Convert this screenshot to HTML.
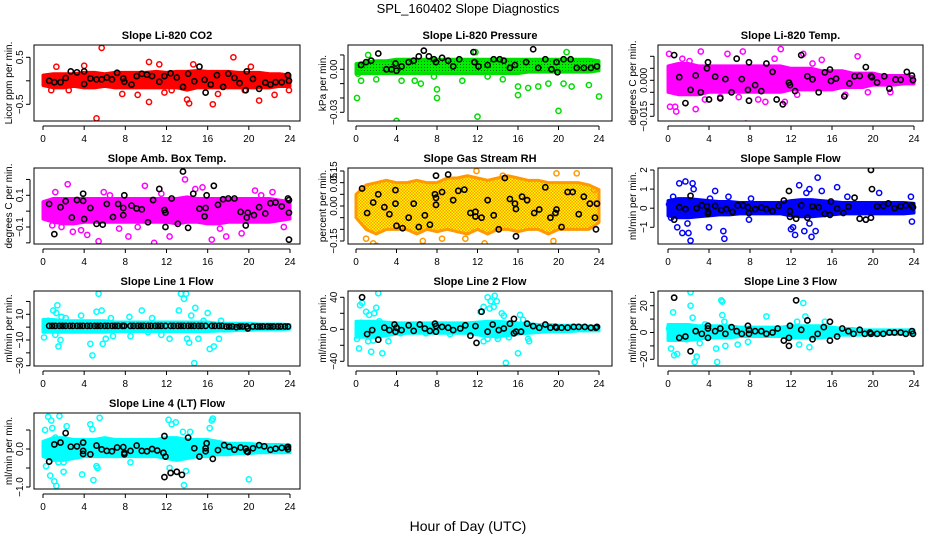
<!DOCTYPE html>
<html><head><meta charset="utf-8"><style>
html,body{margin:0;padding:0;background:#fff;}
svg{display:block;font-family:"Liberation Sans",sans-serif;}
</style></head><body>
<svg id="chart" width="936" height="540" viewBox="0 0 936 540" xmlns="http://www.w3.org/2000/svg">
<defs>
<pattern id="pgreen" width="3" height="3" patternUnits="userSpaceOnUse"><rect width="3" height="3" fill="#00ee00"/><rect x="1" y="1" width="1" height="1" fill="#006600"/></pattern>
<pattern id="porange" width="3" height="3" patternUnits="userSpaceOnUse"><rect width="3" height="3" fill="#ff9900"/><rect x="0" y="0" width="1.5" height="1.5" fill="#ffff00"/><rect x="1.5" y="1.5" width="1.5" height="1.5" fill="#ffff00"/></pattern>
</defs>
<text x="468" y="13" text-anchor="middle" font-size="13">SPL_160402  Slope Diagnostics</text>
<text x="468" y="531" text-anchor="middle" font-size="14">Hour of Day (UTC)</text>
</svg>
<script>
const bandHours=[0,1,2,3,4,5,6,7,8,9,10,11,12,13,14,15,16,17,18,19,20,21,22,23,24];
const xTicks=[0,4,8,12,16,20,24];

// Panel 1 CO2
const p1Hi=[0.12,0.15,0.15,0.15,0.18,0.18,0.15,0.18,0.18,0.18,0.18,0.2,0.18,0.2,0.2,0.22,0.2,0.2,0.2,0.18,0.18,0.18,0.15,0.15,0.12];
const p1Lo=[-0.1,-0.15,-0.15,-0.12,-0.15,-0.15,-0.12,-0.15,-0.15,-0.15,-0.15,-0.15,-0.15,-0.15,-0.2,-0.15,-0.15,-0.15,-0.15,-0.15,-0.15,-0.15,-0.15,-0.12,-0.12];
const p1OutX=[5.7,5.2,1.3,4,10.3,11.3,14.6,18.5,20.2,10.3,14,14.2,16.5,21,22.5,9.2,11.8,0.8,2.5,7.7,17,23.9,19.6,15.3,12.5];
const p1OutY=[0.7,-0.8,0.3,0.32,0.4,0.35,0.35,0.5,0.3,-0.45,-0.4,-0.48,-0.5,-0.42,-0.3,-0.3,-0.25,-0.2,-0.2,-0.28,-0.28,-0.2,-0.2,-0.1,-0.2];
const p1BlkX=[0.6,1.1,1.7,2.2,2.7,3.3,4,4,4.6,5.2,5.7,6.2,6.7,7.2,7.8,7.9,8.6,9.1,9.6,10.1,10.6,11.3,11.8,12.4,13,13.6,14.1,14.7,15.2,15.7,15.8,16.3,16.9,17.5,18,18.6,19.1,19.7,19.8,20.4,21,21.6,22.1,22.6,23.2,23.8,23.9];
const p1BlkY=[0,-0.03,-0.03,0.06,0.2,0.18,0.2,-0.07,0.05,0.03,0.03,0.07,0.03,0.17,0.05,-0.02,-0.08,0.1,0.15,0.13,0.1,-0.02,0.1,0.16,0.07,-0.13,0.15,-0.01,0.3,0.02,-0.25,-0.08,0.12,-0.13,0.15,0.06,-0.05,-0.2,0.2,0.04,-0.17,-0.04,-0.08,-0.03,-0.03,0.12,0];

// Panel 2 Pressure
const p2Hi=[0.004,0.005,0.006,0.006,0.007,0.007,0.007,0.007,0.007,0.007,0.007,0.007,0.007,0.007,0.007,0.007,0.007,0.007,0.007,0.007,0.007,0.007,0.007,0.007,0.006];
const p2Lo=[-0.003,-0.003,-0.003,-0.003,-0.003,-0.003,-0.003,-0.003,-0.003,-0.003,-0.003,-0.003,-0.003,-0.003,-0.003,-0.003,-0.003,-0.002,-0.002,-0.002,-0.002,-0.002,-0.002,-0.002,-0.001];
const p2OutX=[0.1,0.2,0.5,1.2,2,4,4.5,5.8,6.4,7.7,8,8,10.5,12,13,14.5,16,16,17,18,19,20,20.5,21.3,23,24,11.8,20.8];
const p2OutY=[-0.02,-0.003,-0.008,0.01,-0.007,-0.036,-0.008,-0.008,-0.01,-0.005,-0.014,-0.02,-0.008,-0.033,-0.005,-0.007,-0.012,-0.018,-0.013,-0.012,-0.01,-0.029,-0.01,-0.012,-0.011,-0.019,0.012,0.012];
const p2BlkX=[0.5,1,1.5,2.2,3,3.5,3.9,4,4.5,5.2,5.7,6.2,6.7,7.2,7.7,7.9,8.5,9.1,9.6,10.2,11.6,11.7,12.1,13,13.6,14.2,14.6,15.2,15.7,16.8,17.5,18,18.7,19.3,19.8,19.9,20.5,21.2,21.8,22.5,23.2,23.8];
const p2BlkY=[0.003,0.005,0.006,0.011,0,0,0.004,-0.001,0.002,0.005,0.006,0.009,0.013,0.009,0.007,0.005,0.008,0.006,0.002,0.007,0.012,0.005,0.002,0.003,0.007,0.007,0.006,0.001,0.003,0.005,0.014,0.001,0.007,0,0.005,-0.002,0.007,0.007,0.001,0.001,0.001,0.002];

// Panel 3 Li-820 Temp
const p3Hi=[0.006,0.007,0.007,0.006,0.006,0.006,0.006,0.006,0.006,0.006,0.006,0.006,0.005,0.005,0.005,0.004,0.004,0.004,0.003,0.003,0.003,0.002,0.002,0.002,0.0015];
const p3Lo=[-0.005,-0.006,-0.006,-0.006,-0.005,-0.005,-0.005,-0.005,-0.005,-0.005,-0.005,-0.005,-0.004,-0.004,-0.004,-0.004,-0.004,-0.003,-0.003,-0.003,-0.002,-0.002,-0.002,-0.0015,-0.0015];
const p3OutX=[0.1,1.6,4.6,0.2,0.7,0.8,2.7,6.2,7.6,7.3,3.2,11,13.2,18.5,15,9.5,11.4,12.6,17.3,21.7,5.1,3.6,1.4,5.8,2.1,8.8,10.4,6.9,14.1,19.5];
const p3OutY=[0.011,0.017,0.016,-0.011,-0.011,-0.013,-0.012,-0.019,-0.018,0.012,0.012,0.013,0.011,0.01,0.0085,-0.009,-0.009,-0.006,-0.006,-0.005,-0.007,-0.008,0.009,0.011,0.008,-0.008,0.009,-0.007,0.007,-0.005];
const p3BlkX=[0.6,1.1,1.7,2.2,2.7,3.2,3.8,3.9,4,4.6,5.1,5.6,6.2,6.7,7.2,7.8,7.9,7.9,8.5,9.1,9.6,10.2,10.6,11.2,11.8,11.9,12.4,13,13.6,14.1,14.7,15.3,15.8,15.9,16.4,17.2,17.7,18.2,18.7,19.3,19.8,19.9,20.4,21.1,21.6,22.2,22.7,23.3,23.8,23.9];
const p3BlkY=[0.0105,0.0013,-0.0095,-0.004,0.002,-0.005,0.005,0.0075,-0.008,0.0015,-0.0075,0.0005,-0.005,0.009,0.0005,-0.004,0.0075,-0.0085,-0.002,-0.0045,0.007,0.0035,-0.008,-0.01,-0.001,-0.002,-0.0045,0.0105,0.0017,0.0004,-0.005,0.0033,0.0045,-0.0003,0.0007,-0.0067,-0.0013,0.0017,0.0018,0.0055,0.0018,0.0013,-0.0009,0.0017,-0.0035,0.0003,0.0002,0.0035,0.002,0.0001];

// Panel 4 Amb Box Temp
const p4Hi=[0.06,0.08,0.08,0.08,0.08,0.08,0.08,0.08,0.08,0.08,0.08,0.08,0.08,0.08,0.09,0.08,0.08,0.08,0.08,0.08,0.08,0.08,0.08,0.07,0.06];
const p4Lo=[-0.05,-0.07,-0.08,-0.08,-0.07,-0.07,-0.07,-0.07,-0.07,-0.07,-0.07,-0.07,-0.07,-0.08,-0.07,-0.07,-0.08,-0.08,-0.07,-0.07,-0.07,-0.07,-0.07,-0.06,-0.05];
const p4OutX=[2.4,1.2,5.9,13.8,15.5,9.9,14.8,12.3,8.3,10.8,16.4,4.3,3.7,5.4,2.9,0.9,19.3,23.4,17.8,22.3,20.6,6.5,9.2,11.5,17.2,21.2,1.8,7.4];
const p4OutY=[0.17,0.12,0.12,0.2,0.15,0.16,0.14,-0.16,-0.16,-0.2,-0.18,-0.15,-0.12,-0.19,-0.13,-0.09,-0.14,-0.1,-0.16,0.12,0.13,0.1,-0.1,0.11,-0.11,0.1,-0.1,-0.11];
const p4BlkX=[0.6,1.1,1.7,2.2,2.8,3.3,3.9,3.9,4,4.6,5.2,5.8,6.2,6.8,7.3,7.8,7.9,7.8,8.6,9.1,9.6,10.2,10.7,11.3,11.8,11.9,11.9,12.5,13.1,13.6,14.1,14.6,15.2,15.8,15.7,15.9,16.6,17,17.5,18,18.6,19.2,19.7,19.8,19.9,20.5,21,21.6,22.1,22.6,23.2,23.8,23.9,23.9,23.9];
const p4BlkY=[0.045,-0.145,0.025,0.063,-0.04,0.07,0.065,0.11,-0.05,0.02,-0.08,-0.085,0.045,-0.037,0.045,0.02,0.1,-0.025,0.035,0.017,0.011,-0.07,0.07,0.14,0.007,-0.01,-0.1,0.08,-0.08,0.25,-0.105,0.11,0.015,0.02,-0.033,0.1,0.16,0.04,0.075,0.08,0.08,-0.005,-0.09,-0.04,-0.01,-0.025,0.025,-0.015,0.05,0.055,0.03,0.08,0.07,-0.01,-0.18];

// Panel 5 Gas Stream RH
const p5Hi=[0.05,0.09,0.1,0.11,0.1,0.1,0.11,0.1,0.1,0.12,0.12,0.13,0.12,0.11,0.12,0.13,0.12,0.11,0.11,0.1,0.1,0.1,0.1,0.09,0.07];
const p5Lo=[-0.05,-0.1,-0.12,-0.1,-0.1,-0.1,-0.12,-0.1,-0.11,-0.1,-0.11,-0.12,-0.1,-0.12,-0.1,-0.1,-0.11,-0.1,-0.1,-0.12,-0.1,-0.1,-0.1,-0.1,-0.07];
const p5OutX=[2.9,1.7,2,1,15.6,14.5,11.9,19.8,6.6,8.5,19.5,12.7,10.8,23.5,21.8];
const p5OutY=[0.18,-0.16,-0.17,-0.14,0.2,0.13,0.15,0.14,-0.15,-0.14,-0.15,-0.16,-0.14,0.07,0.14];
const p5BlkX=[0.6,1.1,1.7,2.2,2.8,3.3,3.9,3.9,4,4.6,5.2,5.7,6.2,6.8,7.3,7.9,7.8,7.9,7.9,8.5,9.1,9.6,10.1,10.7,11.3,11.8,11.8,12.4,13,13.6,14.1,14.7,15.2,15.7,15.8,15.8,16.4,16.9,17.6,18.1,18.7,19.2,19.7,19.8,19.8,20.3,20.9,21.4,22,22.5,23.1,23.6,23.7,23.8];
const p5BlkY=[0.075,-0.03,0.015,0.05,-0.005,-0.035,0.068,0.01,-0.085,-0.095,-0.05,0.01,-0.09,-0.04,-0.08,0.13,0.05,0.035,0.005,0.06,0.135,0.025,0.065,0.07,-0.03,-0.045,-0.025,-0.05,0.025,-0.04,-0.1,0.12,0.03,0.01,-0.013,-0.13,0.04,0.025,-0.03,-0.015,0.08,-0.05,-0.03,-0.015,-0.19,-0.09,0.06,0.06,-0.035,0.04,0.01,-0.05,-0.1,0.01];

// Panel 6 Sample Flow
const p6Hi=[0.4,0.5,0.5,0.45,0.4,0.35,0.35,0.3,0.3,0.3,0.3,0.3,0.4,0.45,0.45,0.4,0.35,0.3,0.3,0.3,0.3,0.3,0.3,0.3,0.25];
const p6Lo=[-0.4,-0.5,-0.5,-0.45,-0.4,-0.35,-0.35,-0.3,-0.3,-0.3,-0.3,-0.3,-0.4,-0.45,-0.45,-0.4,-0.35,-0.3,-0.3,-0.3,-0.3,-0.3,-0.3,-0.3,-0.25];
const p6OutX=[0.1,0.3,0.5,0.9,1.1,1.4,1.7,1.9,2,2.2,2.4,2.5,2.2,4,4.1,4.6,5.4,5.5,5.9,7.9,8.1,12,12.2,12.4,12.8,13.3,13.5,13.8,13.8,14,14.4,14.6,15,16.5,17.5,20.6,23.7,23.8,19.3];
const p6OutY=[0.2,-0.5,0.6,-1,1.3,-1.3,1.4,-0.8,-1.3,-1.7,1.3,1,0.4,-1,0.5,0.9,-1.2,-1.6,0.6,-0.6,0.5,-1.1,-1,-1.4,1.2,-1.2,0.8,1,-0.8,-1.5,-1.2,1.6,0.9,1.1,0.6,0.8,0.6,-0.7,-0.6];
const p6BlkX=[0.6,1.1,1.7,2.2,2.8,3.3,3.8,3.9,3.9,4.6,5.2,5.7,6.3,6.8,7.3,7.8,7.9,8.5,9.1,9.6,10.2,10.8,11.3,11.8,11.9,11.9,12.5,13,13.6,14.1,14.7,15.3,15.8,15.9,16.5,17.1,17.6,18.2,18.7,19.3,19.8,19.9,19.8,20.4,21,21.5,22.1,22.7,23.2,23.8,23.9];
const p6BlkY=[-0.6,0.05,-0.05,0.65,0,0.15,0.1,-0.2,-0.3,0.12,-0.1,-0.05,-0.2,0.15,0.15,0.05,-0.25,-0.05,0.03,-0.05,-0.15,0.12,0.4,0.9,-0.15,-0.45,-0.55,0.15,-0.5,0.1,0.05,-0.3,-0.35,0.35,-0.02,-0.25,0.08,0.55,-0.55,-0.6,-0.5,1,2,0.1,0.12,0.25,0,0.1,0.15,0.15,0.05];

// Panel 7 Line 1 Flow
const p7Hi=[6,6,5,5,5,5,5,4,4,4,4,4,4,4,4,4,4,3,3,3,3,2.5,2.5,2.5,2];
const p7Lo=[-4,-4,-4,-4,-4,-4,-4,-3.5,-3.5,-3.5,-3.5,-3.5,-3.5,-3.5,-3.5,-3.5,-3.5,-3,-3,-2.5,-2.5,-2,-2,-2,-1.5];
const p7OutX=[0.1,0.5,1,1.2,1.3,1.4,1.5,1.7,1.8,2.2,3.7,4.6,4.8,5.2,5.4,5.7,5.8,6.1,6.6,7.7,8.4,9.6,10.6,11.5,12.3,13.2,13.4,13.7,13.9,14,14.2,14.4,14.8,14.7,15.1,15.6,16,16.2,16.6,17.1,17.3,8.5,10.2,6.8];
const p7OutY=[-8,5,13,-6,11,17,-15,-10,8,7,9,-13,-22,12,26,13,-13,-9,7,-2,8,13,7,-6,-9,13,26,22,26,-9,-12,9,15,-28,-9,5,11,-17,-15,-9,5,-7,-4,-7];
const p7BlkX=[0.6,0.9,1.2,1.6,1.9,2.2,2.6,2.9,3.3,3.6,3.9,4.3,4.6,5.0,5.3,5.6,6.0,6.3,6.7,7.0,7.3,7.7,7.9,8.5,8.8,9.2,9.5,9.8,10.2,10.5,10.9,11.2,11.5,11.9,12.4,12.7,13.1,13.4,13.7,14.1,14.4,14.7,15.1,15.4,15.8,16.4,16.7,17.1,17.4,17.8,18.1,18.4,18.8,19.1,19.4,19.8,19.9,20.4,20.8,21.1,21.4,21.8,22.1,22.4,22.8,23.1,23.5,23.8];
const p7BlkY=[1,1,1,1,1,1,1,1,1,1,1,1,1,1,1,1,1,1,1,1,1,1,1,1,1,1,1,1,1,1,1,1,1,1,1,1,1,1,1,1,1,1,1,1,1,1,1,1,1,0.5,0.5,0.5,0,0.5,0.5,0.5,-1,0.5,0.5,0.5,0.5,0.5,0.5,0.5,0.5,0.5,0.5,0.5];

// Panel 8 Line 2 Flow
const p8Hi=[10,10,10,9,8,8,8,8,8,8,8,8,9,10,10,9,8,7,6,6,5,5,5,4,4];
const p8Lo=[-10,-10,-10,-8,-6,-5,-5,-5,-5,-5,-5,-5,-7,-9,-9,-8,-6,-5,-4,-3,-3,-3,-2,-2,-2];
const p8OutX=[0.1,0.3,0.4,0.6,0.5,1,1.3,1.5,1.8,2,2.2,2.3,2.6,1.7,1.2,3.2,4,4.4,12.3,12.6,13,13.3,13.7,13.9,13.6,13.2,14.4,14.6,14.8,15.1,16,16.2,16.5,17,17.1,12.6,13,14,13.9,9.3,6.9];
const p8OutY=[-12,-24,30,33,8,22,18,-28,20,27,45,10,-30,-14,-15,-15,-3,-5,22,28,40,35,42,35,28,26,20,17,-42,-10,-30,18,12,-12,-15,-15,-12,-12,-8,-6,-5];
const p8BlkX=[0.6,1.1,1.6,2.2,2.8,3.3,3.8,3.9,4,4.5,5.2,5.7,6.3,6.8,7.3,7.8,7.9,7.9,8.5,9.1,9.6,10.3,10.8,11.3,11.8,11.9,12.4,13,13.5,14.1,14.6,15.2,15.6,15.6,15.8,16.3,16.9,17.5,18.1,18.7,19.2,19.7,19.8,20.3,20.9,21.5,22,22.6,23.2,23.7,23.8];
const p8BlkY=[40,-6,-1,-13,2,-1,6,-3,2,-1,5,-2,6,1,-2,7,-3,4,3,2,-1,1,5,-8,4,-17,22,-3,6,-1,1,7,13,-5,-3,-3,7,4,2,6,2,3,2,2,2,3,3,3,2,2,3];

// Panel 9 Line 3 Flow
const p9Hi=[6,6,6,5,5,5,5,4,4,4,4,4,5,5,5,5,4,3,3,2,2,2,2,2,2];
const p9Lo=[-6,-6,-6,-5,-4,-4,-4,-3,-3,-3,-3,-3,-4,-4,-4,-4,-3,-2,-2,-2,-2,-1.5,-1.5,-1.5,-1.5];
const p9OutX=[0.1,0.3,0.5,0.6,0.9,1.8,2.2,2.2,2.4,2.6,2.8,3.1,3.6,4.7,4.8,5.2,5.3,5.3,5.5,5.6,6.8,9.6,12.6,13.2,13.4,15.3,12.8,13.8,7.8];
const p9OutY=[3,-12,15,-17,-16,-5,20,30,11,-22,-18,-8,6,-12,-22,24,23,13,8,-10,-9,12,8,22,12,8,-9,-11,-7];
const p9BlkX=[0.6,1.1,1.7,2.2,2.7,3.3,3.9,3.9,3.9,4.6,5.1,5.6,6.2,6.7,7.2,7.8,7.9,7.9,8.5,9.1,9.6,10.2,10.7,11.3,11.8,11.9,11.8,12.5,13,13.6,14.1,14.6,15.2,15.8,15.8,16.5,17,17.6,18.1,18.7,19.2,19.7,19.8,20.4,21,21.6,22.1,22.7,23.2,23.8,23.9];
const p9BlkY=[26,-4,-3,-14,1,-1,5,3,-4,1,3,-1,4,1,-1,5,2,-1,1,1,-1,0,3,-6,-10,5,-4,24,2,9,-5,-1,4,8,-6,-3,3,1,-1,2,-1,0,-1,-1,-1,0,0,0,-1,1,-1];

// Panel 10 Line 4 (LT) Flow
const p10Hi=[0.2,0.3,0.3,0.25,0.25,0.25,0.3,0.25,0.25,0.25,0.25,0.25,0.3,0.3,0.25,0.25,0.25,0.2,0.15,0.15,0.15,0.12,0.12,0.12,0.1];
const p10Lo=[-0.2,-0.3,-0.3,-0.25,-0.2,-0.2,-0.2,-0.2,-0.2,-0.2,-0.2,-0.2,-0.25,-0.3,-0.25,-0.2,-0.2,-0.15,-0.15,-0.12,-0.12,-0.1,-0.1,-0.1,-0.1];
const p10OutX=[0.2,0.5,0.3,0.7,0.8,0.9,1.1,1.3,1.6,1.2,2.3,2,3.8,4.6,4.8,5.2,4.9,5.5,5.3,8.5,12.2,12.5,12.9,12.3,13.7,13.6,13.9,14.3,16.2,16.4,16.5,20,2,1.5];
const p10OutY=[0.5,0.85,-0.45,-0.7,0.75,0.55,-0.85,-0.97,0.87,0.3,0.6,-0.6,-0.67,0.65,0.52,-0.45,-0.82,0.82,-0.5,-0.35,0.77,0.65,0.7,-0.5,-0.95,0.45,-0.58,0.45,0.55,0.75,0.8,-0.8,-0.35,-0.35];
const p10BlkX=[0.6,1.1,1.7,2.2,2.7,3.3,3.9,3.9,3.9,4.6,5.2,5.7,6.2,6.7,7.2,7.8,7.9,7.9,8.5,9.1,9.6,10.1,10.6,11.1,11.7,11.8,11.9,11.8,12.4,13,13.5,14.1,14.7,15.2,15.8,15.8,15.9,16.5,17,17.6,18.1,18.6,19.2,19.7,19.8,19.9,20.4,21,21.5,22.1,22.6,23.2,23.7,23.8,23.8];
const p10BlkY=[-0.33,0.12,0.17,0.42,0.06,0.07,0.17,-0.05,-0.13,-0.14,0.09,-0.01,-0.05,-0.06,0.04,0.05,-0.1,-0.14,-0.05,0.09,-0.05,-0.06,0,-0.04,-0.1,0.34,-0.2,-0.74,-0.63,-0.6,-0.68,0.3,0.02,-0.2,0.02,-0.06,0.15,-0.26,-0.03,0.1,0.06,-0.02,0.04,0.01,-0.06,-0.08,0.02,0.1,0.07,-0.02,0.01,0.03,0.04,0.06,-0.01];

const NS="http://www.w3.org/2000/svg";
const svg=document.getElementById('chart');
function mk(tag,attrs,parent){const e=document.createElementNS(NS,tag);for(const k in attrs)e.setAttribute(k,attrs[k]);(parent||svg).appendChild(e);return e;}

const cols=[{L:34,R:300,x0:43,x24:290},{L:348,R:612,x0:356,x24:599},{L:658,R:923,x0:668,x24:914}];
const rows=[{T:45,B:121},{T:168,B:244},{T:291,B:366},{T:413,B:489}];

const panels=[
 {key:'co2',title:'Slope Li-820 CO2',ylab:'Licor ppm per min.',c:0,r:0,v0:0.5,p0:57.3,v1:-0.5,p1:104.3,ticks:[0.5,0,-0.5],labs:['0.5','','\u22120.5'],col:'#ff0000',fill:'#ff0000',hi:p1Hi,lo:p1Lo,ox:p1OutX,oy:p1OutY,bx:p1BlkX,by:p1BlkY},
 {key:'pressure',title:'Slope Li-820 Pressure',ylab:'kPa per min.',c:1,r:0,v0:0,p0:69.3,v1:-0.03,p1:112.3,ticks:[0.01,0,-0.01,-0.02,-0.03],labs:['','0.00','','','\u22120.03'],col:'#00dd00',fill:'url(#pgreen)',hi:p2Hi,lo:p2Lo,ox:p2OutX,oy:p2OutY,bx:p2BlkX,by:p2BlkY},
 {key:'li820-temp',title:'Slope Li-820 Temp.',ylab:'degrees C per min.',c:2,r:0,v0:0,p0:80.3,v1:-0.015,p1:116.3,ticks:[0.01,0.005,0,-0.005,-0.01,-0.015],labs:['','','0.000','','','\u22120.015'],col:'#ff00ff',fill:'#ff00ff',hi:p3Hi,lo:p3Lo,ox:p3OutX,oy:p3OutY,bx:p3BlkX,by:p3BlkY},
 {key:'amb-box-temp',title:'Slope Amb. Box Temp.',ylab:'degrees C per min.',c:0,r:1,v0:0.1,p0:195.3,v1:-0.1,p1:227,ticks:[0.2,0.1,0,-0.1,-0.2],labs:['','0.1','','\u22120.1',''],col:'#ff00ff',fill:'#ff00ff',hi:p4Hi,lo:p4Lo,ox:p4OutX,oy:p4OutY,bx:p4BlkX,by:p4BlkY},
 {key:'gas-stream-rh',title:'Slope Gas Stream RH',ylab:'percent per min.',c:1,r:1,v0:0.15,p0:171,v1:-0.15,p1:241,ticks:[0.15,0.1,0.05,0,-0.05,-0.1,-0.15],labs:['0.15','0.05','','0.00','','','\u22120.15'],col:'#ff9900',fill:'url(#porange)',hi:p5Hi,lo:p5Lo,ox:p5OutX,oy:p5OutY,bx:p5BlkX,by:p5BlkY},
 {key:'sample-flow',title:'Slope Sample Flow',ylab:'ml/min per min.',c:2,r:1,v0:2,p0:170,v1:-1,p1:227.3,ticks:[2,1,0,-1],labs:['2','1','0','\u22121'],col:'#0000ff',fill:'#0000ff',hi:p6Hi,lo:p6Lo,ox:p6OutX,oy:p6OutY,bx:p6BlkX,by:p6BlkY},
 {key:'line1-flow',title:'Slope Line 1 Flow',ylab:'ml/min per min.',c:0,r:2,v0:10,p0:314.3,v1:-10,p1:340,ticks:[20,10,0,-10,-20,-30],labs:['','10','','\u221210','','\u221230'],col:'#00ffff',fill:'#00ffff',hi:p7Hi,lo:p7Lo,ox:p7OutX,oy:p7OutY,bx:p7BlkX,by:p7BlkY},
 {key:'line2-flow',title:'Slope Line 2 Flow',ylab:'ml/min per min.',c:1,r:2,v0:40,p0:297.3,v1:-40,p1:361.3,ticks:[40,20,0,-20,-40],labs:['40','','0','','\u221240'],col:'#00ffff',fill:'#00ffff',hi:p8Hi,lo:p8Lo,ox:p8OutX,oy:p8OutY,bx:p8BlkX,by:p8BlkY},
 {key:'line3-flow',title:'Slope Line 3 Flow',ylab:'ml/min per min.',c:2,r:2,v0:20,p0:305.7,v1:-20,p1:359.3,ticks:[30,20,10,0,-10,-20],labs:['','20','','0','','\u221220'],col:'#00ffff',fill:'#00ffff',hi:p9Hi,lo:p9Lo,ox:p9OutX,oy:p9OutY,bx:p9BlkX,by:p9BlkY},
 {key:'line4-flow',title:'Slope Line 4 (LT) Flow',ylab:'ml/min per min.',c:0,r:3,v0:0,p0:449,v1:-1,p1:487,ticks:[0.5,0,-0.5,-1],labs:['','0.0','','\u22121.0'],col:'#00ffff',fill:'#00ffff',hi:p10Hi,lo:p10Lo,ox:p10OutX,oy:p10OutY,bx:p10BlkX,by:p10BlkY}
];

panels.forEach(p=>{
  const C=cols[p.c],R=rows[p.r];
  const xs=h=>C.x0+(C.x24-C.x0)*h/24;
  const ys=v=>p.p0+(p.p1-p.p0)*(v-p.v0)/(p.v1-p.v0);
  const g=mk('g',{});
  
  
  const clipId='clip-'+p.key;
  const cp=mk('clipPath',{id:clipId},g);
  mk('rect',{x:C.L,y:R.T,width:C.R-C.L,height:R.B-R.T},cp);
  const data=mk('g',{'clip-path':'url(#'+clipId+')'},g);
  let pts=bandHours.map((h,i)=>xs(h)+','+ys(p.hi[i]));
  pts=pts.concat(bandHours.slice().reverse().map((h,j)=>{const i=bandHours.length-1-j;return xs(h)+','+ys(p.lo[i]);}));
  const band=mk('polygon',{points:pts.join(' '),fill:p.fill,stroke:p.col,'stroke-width':3,'stroke-linejoin':'round'},data);
  
  
  p.ox.forEach((h,i)=>{
    const c=mk('circle',{cx:xs(h),cy:ys(p.oy[i]),r:2.6,fill:'none',stroke:p.col,'stroke-width':1.5},data);
    
    
  });
  p.bx.forEach((h,i)=>{
    const c=mk('circle',{cx:xs(h),cy:ys(p.by[i]),r:2.6,fill:'none',stroke:'#000','stroke-width':1.6},data);
    
    
  });
  const box=mk('rect',{x:C.L,y:R.T,width:C.R-C.L,height:R.B-R.T,fill:'none',stroke:'#000','stroke-width':1},g);
  
  
  const t=mk('text',{x:(C.L+C.R)/2,y:R.T-6,'text-anchor':'middle','font-size':11,'font-weight':'bold'},g);
  t.textContent=p.title;
  
  
  const ay=R.B+5;
  mk('line',{x1:xs(0),x2:xs(24),y1:ay,y2:ay,stroke:'#000'},g);
  xTicks.forEach(h=>{
    mk('line',{x1:xs(h),x2:xs(h),y1:ay,y2:ay+4,stroke:'#000'},g);
    const tl=mk('text',{x:xs(h),y:ay+16,'text-anchor':'middle','font-size':10},g);
    tl.textContent=h;
    
    
  });
  const ax=C.L-4;
  mk('line',{x1:ax,x2:ax,y1:ys(p.ticks[0]),y2:ys(p.ticks[p.ticks.length-1]),stroke:'#000'},g);
  p.ticks.forEach((v,i)=>{
    mk('line',{x1:ax-4,x2:ax,y1:ys(v),y2:ys(v),stroke:'#000'},g);
    if(p.labs[i]){
      const yl=mk('text',{x:0,y:0,'text-anchor':'middle','font-size':10,transform:'translate('+(ax-7)+','+ys(v)+') rotate(-90)'},g);
      yl.textContent=p.labs[i];
      
      
    }
  });
  const yt=mk('text',{x:0,y:0,'text-anchor':'middle','font-size':10,transform:'translate('+(C.L-22)+','+((R.T+R.B)/2)+') rotate(-90)'},g);
  yt.textContent=p.ylab;
  
  
});
</script>
</body></html>
